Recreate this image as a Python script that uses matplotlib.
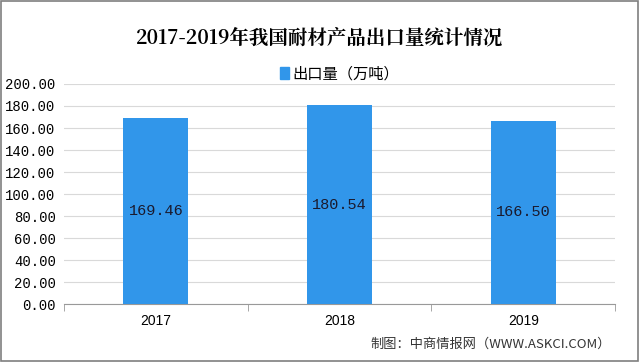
import numpy as np
import matplotlib
matplotlib.use("Agg")
from matplotlib import pyplot as plt
import matplotlib.patches as mpatches

plt.rcParams['font.family'] = ['Noto Sans CJK SC', 'DejaVu Sans']

years = ['2017', '2018', '2019']
exports = [169.46, 180.54, 166.50]
yticks = np.arange(0, 201, 20)

bar_color = '#3196EA'

fig = plt.figure(figsize=(6.4, 3.62), dpi=100)
ax = fig.add_axes([0.100, 0.160, 0.861, 0.608])

x = np.arange(len(years))
bars = ax.bar(x, exports, width=0.355, color=bar_color, zorder=3)
for b, v in zip(bars, exports):
    ax.text(b.get_x() + b.get_width() / 2, v / 2, format(v, '.2f'),
            ha='center', va='center', fontsize=11, color='#1a1a2e',
            family=['Liberation Mono', 'DejaVu Sans Mono'], zorder=4)

ax.set_xlim(-0.5, len(years) - 0.5)
ax.set_ylim(0, 200)
ax.set_yticks(yticks)
ax.set_yticklabels([format(t, '.2f') for t in yticks],
                   family=['Liberation Mono', 'DejaVu Sans Mono'], fontsize=10)
ax.set_xticks(x)
ax.set_xticklabels(years, fontsize=10, family=['Liberation Sans'])
ax.tick_params(axis='y', length=0, pad=6)
ax.tick_params(axis='x', length=0, pad=7)
# category boundary ticks on the x axis
ax.set_xticks(np.arange(-0.5, len(years)), minor=True)
ax.tick_params(axis='x', which='minor', length=5, color='#999999')

ax.grid(axis='y', color='#d9d9d9', linewidth=0.8, zorder=0)
for s in ['top', 'right', 'left']:
    ax.spines[s].set_visible(False)
ax.spines['bottom'].set_color('#999999')

handle = mpatches.Patch(color=bar_color, label='出口量（万吨）')
ax.legend(handles=[handle], loc='center', bbox_to_anchor=(0.5, 1.047),
          frameon=False, fontsize=11, handlelength=0.6, handleheight=0.9,
          handletextpad=0.2)

fig.text(0.5, 0.895, '2017-2019年我国耐材产品出口量统计情况',
         ha='center', va='center', fontsize=14, fontweight='semibold',
         family=['Noto Serif CJK SC', 'Noto Sans CJK SC', 'DejaVu Serif'])
fig.text(0.955, 0.048, '制图：中商情报网（WWW.ASKCI.COM）',
         ha='right', va='center', fontsize=9.5, color='#333333')

# outer frame
fig.patches.append(mpatches.Rectangle((0.002, 0.003), 0.995, 0.994,
                                      transform=fig.transFigure, fill=False,
                                      edgecolor='#7f7f7f', linewidth=1.2))

fig.savefig('out.png', dpi=100)
